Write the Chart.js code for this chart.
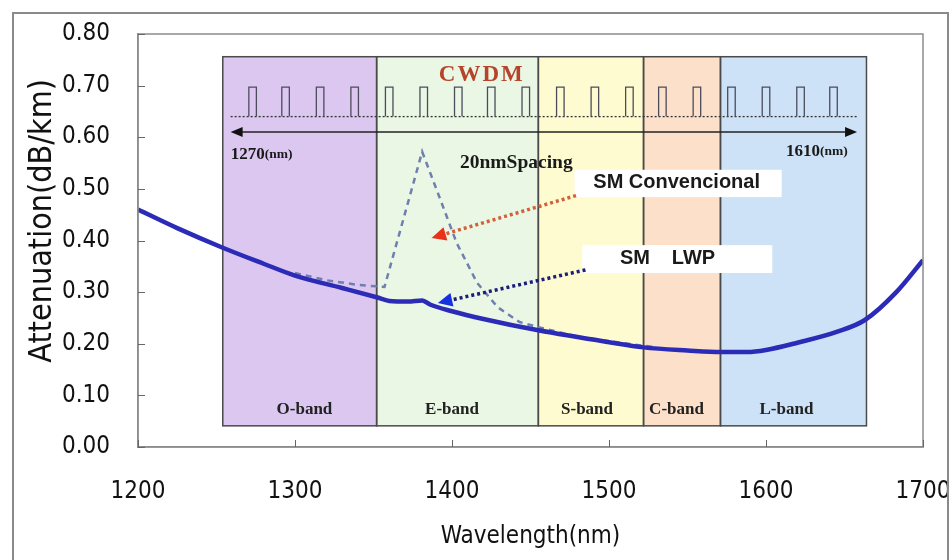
<!DOCTYPE html>
<html>
<head>
<meta charset="utf-8">
<script src="https://cdn.jsdelivr.net/npm/chart.js@4.4.0/dist/chart.umd.min.js"></script>
<style>
    html, body { margin: 0; padding: 0; background: #ffffff; overflow: hidden; }
    #wrap { position: relative; width: 950px; height: 560px; }
    #frame { position: absolute; left: 12px; top: 12px; width: 933px; height: 600px; border: 2px solid #8a8a8a; pointer-events: none; }
    canvas { position: absolute; left: 0; top: 0; }
</style>
</head>
<body>
<div id="wrap">
    <canvas id="chart" width="950" height="560"></canvas>
    <div id="frame"></div>
</div>
<script>
// Axis ticks
const xTicks = [1200, 1300, 1400, 1500, 1600, 1700];
const yTicks = [0, 0.1, 0.2, 0.3, 0.4, 0.5, 0.6, 0.7, 0.8];

// SM LWP fibre (solid)
const lwpWave  = [1200, 1225, 1254, 1280, 1300, 1330, 1352, 1360, 1372, 1381, 1386, 1400, 1420, 1455, 1500, 1522, 1550, 1571, 1588, 1600, 1620, 1645, 1663, 1683, 1700];
const lwpAtten = [0.460, 0.424, 0.386, 0.355, 0.332, 0.308, 0.290, 0.283, 0.282, 0.284, 0.276, 0.263, 0.248, 0.226, 0.203, 0.193, 0.187, 0.184, 0.184, 0.188, 0.202, 0.223, 0.246, 0.300, 0.362];

// SM conventional fibre (dashed, water peak)
const convWave  = [1300, 1320, 1340, 1357, 1381, 1392, 1403, 1416, 1429, 1443, 1455, 1480, 1500, 1530];
const convAtten = [0.337, 0.323, 0.314, 0.310, 0.572, 0.484, 0.395, 0.318, 0.271, 0.242, 0.232, 0.214, 0.205, 0.193];

// Bands
const bandNames = ['O-band', 'E-band', 'S-band', 'C-band', 'L-band'];
const bandEdges = [1254, 1352, 1455, 1522, 1571, 1664];
const bandLabelX = [1306, 1400, 1486, 1543, 1613];
const bandColors = ['#dcc7f1', '#e9f7e4', '#fffbd0', '#fde0c9', '#cde2f6'];

// CWDM channel pulses (1270 ... 1610 nm, drawn on the schematic)
const cwdmCenters = [1273, 1294, 1316, 1338, 1360, 1382, 1404, 1425, 1447, 1469, 1491, 1513, 1534, 1556, 1578, 1600, 1622, 1643];
const pulseBase = 0.640;
const pulseTop = 0.697;
const pulseHalf = 2.4;
const arrowRange = [1259, 1658];
const arrowLevel = 0.610;

// Build chart data
const lwpData = lwpWave.map((x, i) => ({ x: x, y: lwpAtten[i] }));
const convData = convWave.map((x, i) => ({ x: x, y: convAtten[i] }));
const pulseData = [];
cwdmCenters.forEach(c => {
    pulseData.push({ x: c - pulseHalf, y: pulseBase });
    pulseData.push({ x: c - pulseHalf, y: pulseTop });
    pulseData.push({ x: c + pulseHalf, y: pulseTop });
    pulseData.push({ x: c + pulseHalf, y: pulseBase });
    pulseData.push({ x: c + pulseHalf + 0.1, y: null });
});

const axisFont = "'DejaVu Sans Condensed', 'Liberation Sans', sans-serif";
const serif = "'Liberation Serif', 'DejaVu Serif', serif";
const sans = "'Liberation Sans', Arial, sans-serif";

function px(chart, x) { return chart.scales.x.getPixelForValue(x); }
function py(chart, y) { return chart.scales.y.getPixelForValue(y); }

function drawArrow(ctx, x0, y0, x1, y1, lineColor, headColor, dash, width, head) {
    const ang = Math.atan2(y1 - y0, x1 - x0);
    ctx.save();
    ctx.strokeStyle = lineColor;
    ctx.lineWidth = width;
    ctx.setLineDash(dash);
    ctx.beginPath();
    ctx.moveTo(x0, y0);
    ctx.lineTo(x1 - Math.cos(ang) * head * 0.8, y1 - Math.sin(ang) * head * 0.8);
    ctx.stroke();
    ctx.setLineDash([]);
    ctx.fillStyle = headColor;
    ctx.beginPath();
    ctx.moveTo(x1, y1);
    ctx.lineTo(x1 - Math.cos(ang - 0.45) * head, y1 - Math.sin(ang - 0.45) * head);
    ctx.lineTo(x1 - Math.cos(ang + 0.45) * head, y1 - Math.sin(ang + 0.45) * head);
    ctx.closePath();
    ctx.fill();
    ctx.restore();
}

const overlay = {
    id: 'overlay',
    beforeDatasetsDraw(chart) {
        const ctx = chart.ctx;
        const top = py(chart, 0.756), bottom = py(chart, 0.041);
        ctx.save();
        for (let i = 0; i < bandNames.length; i++) {
            const l = px(chart, bandEdges[i]), r = px(chart, bandEdges[i + 1]);
            ctx.fillStyle = bandColors[i];
            ctx.fillRect(l, top, r - l, bottom - top);
        }
        ctx.strokeStyle = '#4a4a4a';
        ctx.lineWidth = 1.5;
        for (let i = 0; i < bandNames.length; i++) {
            const l = px(chart, bandEdges[i]), r = px(chart, bandEdges[i + 1]);
            ctx.strokeRect(l, top, r - l, bottom - top);
        }
        // band labels
        ctx.fillStyle = '#222';
        ctx.font = 'bold 17px ' + serif;
        ctx.textAlign = 'center';
        ctx.textBaseline = 'middle';
        bandNames.forEach((n, i) => ctx.fillText(n, px(chart, bandLabelX[i]), py(chart, 0.072)));
        ctx.restore();
    },
    afterDatasetsDraw(chart) {
        const ctx = chart.ctx;
        const a = chart.chartArea;
        ctx.save();
        // plot frame and inner ticks
        ctx.strokeStyle = '#8c8c8c';
        ctx.lineWidth = 1.5;
        ctx.strokeRect(a.left, a.top, a.right - a.left, a.bottom - a.top);
        ctx.strokeStyle = '#666';
        ctx.lineWidth = 1;
        yTicks.forEach(v => {
            const y = Math.round(py(chart, v)) + 0.5;
            ctx.beginPath(); ctx.moveTo(a.left, y); ctx.lineTo(a.left + 7, y); ctx.stroke();
        });
        xTicks.forEach(v => {
            const x = Math.round(px(chart, v)) + 0.5;
            ctx.beginPath(); ctx.moveTo(x, a.bottom); ctx.lineTo(x, a.bottom - 7); ctx.stroke();
        });

        // CWDM arrow heads
        const ay = py(chart, arrowLevel);
        const ax0 = px(chart, arrowRange[0]), ax1 = px(chart, arrowRange[1]);
        ctx.fillStyle = '#111';
        ctx.beginPath(); ctx.moveTo(ax0, ay); ctx.lineTo(ax0 + 12, ay - 5); ctx.lineTo(ax0 + 12, ay + 5); ctx.closePath(); ctx.fill();
        ctx.beginPath(); ctx.moveTo(ax1, ay); ctx.lineTo(ax1 - 12, ay - 5); ctx.lineTo(ax1 - 12, ay + 5); ctx.closePath(); ctx.fill();

        // texts of the schematic
        ctx.textBaseline = 'middle';
        ctx.textAlign = 'center';
        ctx.fillStyle = '#b5442a';
        ctx.font = 'bold 23px ' + serif;
        ctx.letterSpacing = '2px';
        ctx.fillText('CWDM', px(chart, 1419), py(chart, 0.721));
        ctx.letterSpacing = '0px';

        ctx.fillStyle = '#1a1a1a';
        ctx.font = 'bold 19.5px ' + serif;
        ctx.fillText('20nmSpacing', px(chart, 1441), py(chart, 0.550));

        ctx.textAlign = 'left';
        ctx.font = 'bold 17px ' + serif;
        let x = px(chart, 1259);
        ctx.fillText('1270', x, py(chart, 0.566));
        x += ctx.measureText('1270').width;
        ctx.font = 'bold 13.5px ' + serif;
        ctx.fillText('(nm)', x, py(chart, 0.566));
        ctx.textAlign = 'right';
        x = px(chart, 1652);
        ctx.fillText('(nm)', x, py(chart, 0.572));
        x -= ctx.measureText('(nm)').width;
        ctx.font = 'bold 17px ' + serif;
        ctx.fillText('1610', x, py(chart, 0.572));

        // label boxes
        ctx.fillStyle = '#ffffff';
        ctx.fillRect(px(chart, 1478), py(chart, 0.537), px(chart, 1610) - px(chart, 1478), py(chart, 0.484) - py(chart, 0.537));
        ctx.fillRect(px(chart, 1483), py(chart, 0.391), px(chart, 1604) - px(chart, 1483), py(chart, 0.337) - py(chart, 0.391));
        ctx.fillStyle = '#1a1a1a';
        ctx.font = 'bold 20px ' + sans;
        ctx.textAlign = 'left';
        ctx.fillText('SM Convencional', px(chart, 1490), py(chart, 0.512));
        ctx.fillText('SM', px(chart, 1507), py(chart, 0.366));
        ctx.fillText('LWP', px(chart, 1540), py(chart, 0.366));

        // pointer arrows
        drawArrow(ctx, px(chart, 1479), py(chart, 0.487), px(chart, 1387), py(chart, 0.405), '#d2603a', '#e8321a', [3, 3], 3.5, 16);
        drawArrow(ctx, px(chart, 1485), py(chart, 0.343), px(chart, 1391), py(chart, 0.279), '#1c1c7a', '#1430e0', [3, 3], 3.5, 16);
        ctx.restore();
    },
    afterDraw(chart) {
        // y axis title, sitting a little above the axis centre as in the source figure
        const ctx = chart.ctx;
        ctx.save();
        ctx.translate(43, py(chart, 0.438));
        ctx.rotate(-Math.PI / 2);
        ctx.fillStyle = '#111';
        ctx.font = '32px ' + axisFont;
        ctx.textAlign = 'center';
        ctx.textBaseline = 'middle';
        ctx.fillText('Attenuation(dB/km)', 0, 0);
        ctx.restore();
    }
};

new Chart(document.getElementById('chart'), {
    type: 'line',
    data: {
        datasets: [
            {
                label: 'SM LWP',
                data: lwpData,
                borderColor: '#2b2bb8',
                borderWidth: 4.5,
                pointRadius: 0,
                cubicInterpolationMode: 'monotone'
            },
            {
                label: 'SM Convencional',
                data: convData,
                borderColor: '#6f7fb0',
                borderWidth: 2.5,
                borderDash: [6, 5],
                pointRadius: 0,
                tension: 0
            },
            {
                label: 'pulses',
                data: pulseData,
                borderColor: '#4c4c5c',
                borderWidth: 1.3,
                pointRadius: 0,
                tension: 0,
                spanGaps: false
            },
            {
                label: 'baseline',
                data: [{ x: arrowRange[0], y: pulseBase }, { x: arrowRange[1], y: pulseBase }],
                borderColor: '#333',
                borderWidth: 1.3,
                borderDash: [2, 2],
                pointRadius: 0
            },
            {
                label: 'span',
                data: [{ x: arrowRange[0] + 2, y: arrowLevel }, { x: arrowRange[1] - 2, y: arrowLevel }],
                borderColor: '#222',
                borderWidth: 1.5,
                pointRadius: 0
            }
        ]
    },
    plugins: [overlay],
    options: {
        responsive: false,
        animation: false,
        events: [],
        layout: { padding: { left: 22, right: 27, top: 34, bottom: 5 } },
        plugins: {
            legend: { display: false },
            tooltip: { enabled: false }
        },
        scales: {
            x: {
                type: 'linear',
                min: 1200,
                max: 1700,
                afterBuildTicks: s => { s.ticks = xTicks.map(v => ({ value: v })); },
                afterFit: s => { s.height = 108; s.paddingLeft = 0; s.paddingRight = 0; },
                grid: { display: false, drawTicks: false },
                border: { display: true, color: '#8c8c8c', width: 1.5 },
                ticks: {
                    padding: 30,
                    color: '#111',
                    font: { family: axisFont, size: 24 },
                    maxRotation: 0,
                    callback: v => String(v)
                },
                title: {
                    display: true,
                    text: 'Wavelength(nm)',
                    color: '#111',
                    font: { family: axisFont, size: 24 },
                    padding: { top: 4, bottom: 4 }
                }
            },
            y: {
                min: 0,
                max: 0.8,
                afterBuildTicks: s => { s.ticks = yTicks.map(v => ({ value: v })); },
                afterFit: s => { s.width = 116; s.paddingTop = 0; s.paddingBottom = 0; },
                grid: { display: false, drawTicks: false },
                border: { display: true, color: '#8c8c8c', width: 1.5 },
                ticks: {
                    padding: 28,
                    color: '#111',
                    font: { family: axisFont, size: 24 },
                    callback: v => v.toFixed(2)
                },
                title: { display: false }
            }
        }
    }
});
</script>
</body>
</html>
